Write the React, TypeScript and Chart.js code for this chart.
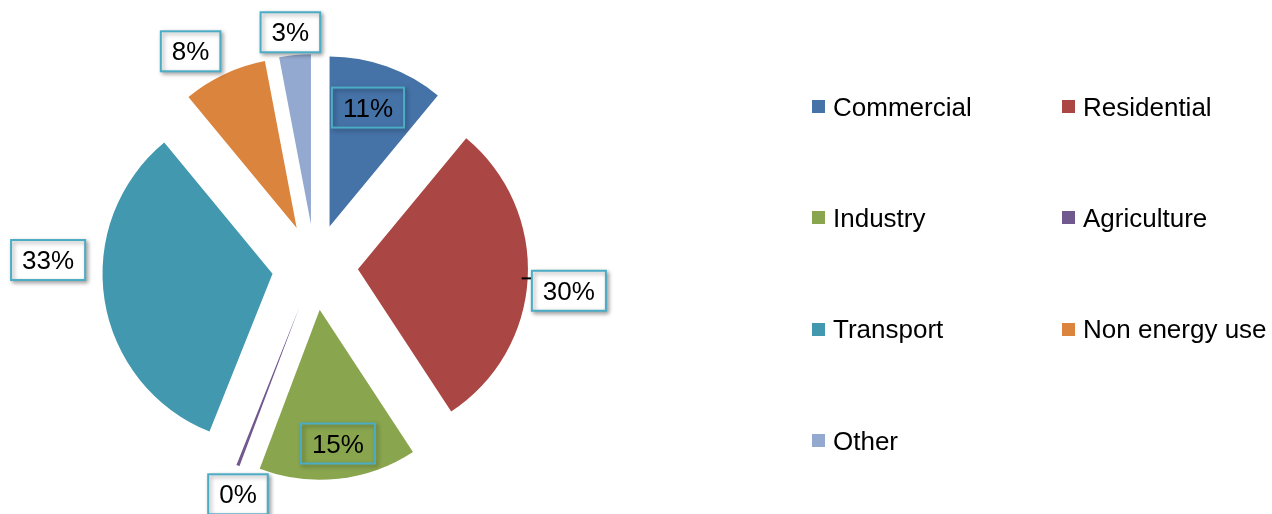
import React, { useEffect, useRef } from "react";
import { Chart, registerables } from "chart.js";

Chart.register(...registerables);

// ---- data ----
const categories = ["Commercial", "Residential", "Industry", "Agriculture", "Transport", "Non energy use", "Other"];
const shares = [11, 29.8, 15, 0.3, 33, 8, 3];

// ---- styles ----
const colors = ["#4572A7", "#AA4643", "#89A54E", "#71588F", "#4198AF", "#DB843D", "#93A9CF"];
const labelDistance = [168, 255, 178, 240, 267, 249, 236];
const labelAngleShift = [-1.4, 2.2, -1.1, -2.5, 10.4, -4.8, -0.6];
const labelFilled = [false, true, false, true, true, true, true];
const labelLeader = [false, true, false, false, false, false, false];
const EXPLODE = 43;
const RADIUS = 170;
const FONT = '"Liberation Sans", Arial, sans-serif';

const explodePlugin = {
  id: "explode",
  afterDatasetsUpdate(chart: any) {
    const meta = chart.getDatasetMeta(0);
    meta.data.forEach((arc: any) => {
      const mid = (arc.startAngle + arc.endAngle) / 2;
      arc.x += Math.cos(mid) * EXPLODE;
      arc.y += Math.sin(mid) * EXPLODE;
    });
  },
};

const labelPlugin = {
  id: "boxLabels",
  afterDatasetsDraw(chart: any) {
    const { ctx, chartArea } = chart;
    const cx = (chartArea.left + chartArea.right) / 2;
    const cy = (chartArea.top + chartArea.bottom) / 2;
    const total = shares.reduce((a, b) => a + b, 0);
    const meta = chart.getDatasetMeta(0);
    ctx.save();
    ctx.font = `26px ${FONT}`;
    meta.data.forEach((arc: any, i: number) => {
      const mid = (arc.startAngle + arc.endAngle) / 2;
      const ang = mid + (labelAngleShift[i] * Math.PI) / 180;
      const lx = cx + labelDistance[i] * Math.cos(ang);
      const ly = cy + labelDistance[i] * Math.sin(ang);
      const text = Math.round((shares[i] / total) * 100) + "%";
      const w = ctx.measureText(text).width + 22;
      const h = 40;
      const bx = lx - w / 2;
      const by = ly - h / 2;
      if (labelLeader[i]) {
        const ox = arc.x + (RADIUS - 6) * Math.cos(mid);
        const oy = arc.y + (RADIUS - 6) * Math.sin(mid);
        ctx.beginPath();
        ctx.moveTo(ox, oy);
        ctx.lineTo(bx, oy);
        ctx.strokeStyle = "#000";
        ctx.lineWidth = 2;
        ctx.stroke();
      }
      ctx.save();
      ctx.shadowColor = "rgba(0,0,0,0.35)";
      ctx.shadowBlur = 4;
      ctx.shadowOffsetX = 2;
      ctx.shadowOffsetY = 2;
      if (labelFilled[i]) {
        ctx.fillStyle = "#ffffff";
        ctx.fillRect(bx, by, w, h);
      }
      ctx.strokeStyle = "#4BACC6";
      ctx.lineWidth = 2;
      ctx.strokeRect(bx, by, w, h);
      ctx.restore();
      ctx.fillStyle = "#000";
      ctx.textAlign = "center";
      ctx.textBaseline = "alphabetic";
      ctx.fillText(text, lx, ly + 9);
    });
    ctx.restore();
  },
};

export default function App() {
  const ref = useRef<HTMLCanvasElement | null>(null);
  useEffect(() => {
    if (!ref.current) return;
    const chart = new Chart(ref.current, {
      type: "pie",
      data: {
        labels: categories,
        datasets: [
          {
            data: shares,
            backgroundColor: colors,
            borderWidth: 0,
            radius: RADIUS,
          } as any,
        ],
      },
      options: {
        animation: false,
        responsive: true,
        maintainAspectRatio: false,
        layout: { padding: { left: 0, right: 642, top: 20, bottom: 0 } },
        plugins: {
          legend: { display: false },
          tooltip: { enabled: false },
        },
      },
      plugins: [explodePlugin, labelPlugin],
    });
    return () => chart.destroy();
  }, []);

  return (
    <div style={{ position: "absolute", left: 0, top: 0, width: 1272, height: 514, background: "#fff" }}>
      <canvas ref={ref} />
      <div
        style={{
          position: "absolute",
          left: 812,
          top: 51,
          display: "grid",
          gridTemplateColumns: "250px 250px",
          gridAutoRows: "111.3px",
          fontFamily: FONT,
          fontSize: 26,
          color: "#000",
        }}
      >
        {categories.map((c, i) => (
          <div key={c} style={{ display: "flex", alignItems: "center" }}>
            <span style={{ width: 13, height: 13, background: colors[i], marginRight: 8, flex: "none", display: "inline-block" }} />
            <span style={{ lineHeight: 1, whiteSpace: "nowrap" }}>{c}</span>
          </div>
        ))}
      </div>
    </div>
  );
}
